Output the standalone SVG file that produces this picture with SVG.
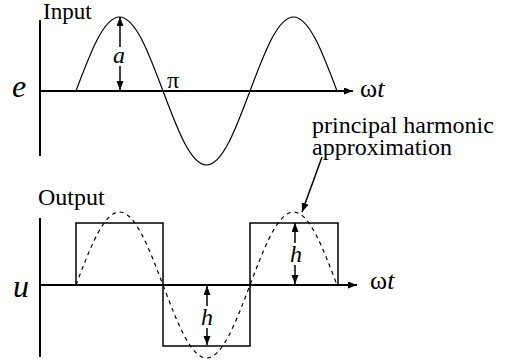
<svg xmlns="http://www.w3.org/2000/svg" width="509" height="363" viewBox="0 0 509 363">
<style>
.ax{stroke:#000;stroke-width:2;fill:none}
.cv{stroke:#000;stroke-width:1.2;fill:none}
.sq{stroke:#000;stroke-width:1.5;fill:none}
.ds{stroke:#000;stroke-width:1.2;fill:none;stroke-dasharray:4 4}
.ar{stroke:#000;stroke-width:1.5;fill:none}
.t{font-family:"Liberation Serif","Times New Roman",serif;fill:#000}
.i{font-style:italic}
</style>
<defs>
<marker id="ah" markerUnits="userSpaceOnUse" markerWidth="10" markerHeight="8" refX="9" refY="3.5" orient="auto">
<path d="M0,0 L9,3.5 L0,7 z" fill="#000"/>
</marker>
</defs>
<rect width="509" height="363" fill="#fff"/>
<g id="input-plot">
<line class="ax" x1="40" y1="20" x2="40" y2="156"/>
<line class="ax" x1="40" y1="91" x2="353" y2="91" marker-end="url(#ah)"/>
<path class="cv" d="M76,91 C90.19,53.09 103.75,17 119.5,17 C135.25,17 148.81,53.09 163,91 C177.19,128.91 190.75,165 206.5,165 C222.25,165 235.81,128.91 250,91 C264.19,53.09 277.75,17 293.5,17 C309.25,17 322.81,53.09 337,91"/>
<line class="ar" x1="120" y1="47" x2="120" y2="17" marker-end="url(#ah)"/>
<line class="ar" x1="120" y1="66" x2="120" y2="90" marker-end="url(#ah)"/>
<text class="t" x="43" y="19" font-size="23">Input</text>
<text class="t i" x="12" y="97" font-size="32">e</text>
<text class="t i" x="119" y="63" font-size="24" text-anchor="middle">a</text>
<text class="t" x="167" y="88" font-size="24">π</text>
<text class="t" x="360" y="97" font-size="26">ω<tspan class="i">t</tspan></text>
</g>
<g id="output-plot">
<line class="ax" x1="40" y1="218" x2="40" y2="357"/>
<line class="ax" x1="40" y1="285" x2="357" y2="285" marker-end="url(#ah)"/>
<path class="sq" d="M76,285 V223 H163 V346 H250 V223 H338 V285"/>
<path class="ds" d="M76,285 C90.19,247.6 103.75,212 119.5,212 C135.25,212 148.81,247.6 163,285 C177.19,322.4 190.75,358 206.5,358 C222.25,358 235.81,322.4 250,285 C264.19,247.6 277.75,212 293.5,212 C309.25,212 322.81,247.6 337,285"/>
<line class="ar" x1="295" y1="243" x2="295" y2="223" marker-end="url(#ah)"/>
<line class="ar" x1="295" y1="265" x2="295" y2="284" marker-end="url(#ah)"/>
<line class="ar" x1="207" y1="306" x2="207" y2="286" marker-end="url(#ah)"/>
<line class="ar" x1="207" y1="328" x2="207" y2="345" marker-end="url(#ah)"/>
<text class="t" x="38" y="205" font-size="24">Output</text>
<text class="t i" x="13" y="297" font-size="32">u</text>
<text class="t i" x="296" y="262" font-size="24" text-anchor="middle">h</text>
<text class="t i" x="207" y="325" font-size="24" text-anchor="middle">h</text>
<text class="t" x="370" y="289" font-size="26">ω<tspan class="i">t</tspan></text>
</g>
<g id="annotation">
<text class="t" x="312" y="133" font-size="24">principal harmonic</text>
<text class="t" x="312" y="155" font-size="24">approximation</text>
<line class="ar" x1="322" y1="157" x2="302" y2="212" marker-end="url(#ah)"/>
</g>
</svg>
